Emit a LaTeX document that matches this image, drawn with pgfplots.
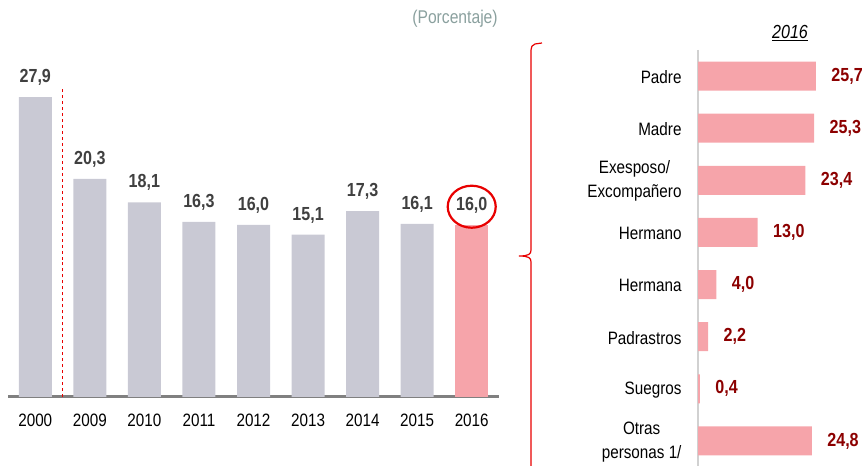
\documentclass[border=0pt]{standalone}
\usepackage{fontspec}
\setmainfont{Liberation Sans}[FakeStretch=0.85]
\usepackage{pgfplots}
\pgfplotsset{compat=1.18}

\definecolor{bargray}{RGB}{201,201,212}
\definecolor{barpink}{RGB}{246,164,170}
\definecolor{lblgray}{RGB}{64,64,64}
\definecolor{lblred}{RGB}{140,0,0}
\definecolor{axisgray}{RGB}{128,128,128}
\definecolor{notegray}{RGB}{138,160,158}
\definecolor{markred}{RGB}{232,0,0}

\begin{document}
\begin{tikzpicture}[x=1bp,y=1bp]
\useasboundingbox (0,0) rectangle (863,466);

% left: series 2000-2016
\begin{axis}[
    at={(8bp,69bp)}, anchor=south west,
    scale only axis, width=491bp, height=322.5bp,
    xmin=-0.5, xmax=8.5, ymin=0, ymax=30,
    axis x line=bottom, axis y line=none,
    x axis line style={draw=axisgray, line width=3bp, -},
    xtick={0,...,8},
    xticklabels={2000,2009,2010,2011,2012,2013,2014,2015,2016},
    major tick length=0pt,
    xticklabel style={font=\fontsize{18}{20}\selectfont, text=black, yshift=-13bp},
    ybar, bar width=33bp, bar shift=0pt,
    point meta=y,
    nodes near coords={\pgfmathprintnumber[fixed,fixed zerofill,precision=1,use comma,assume math mode=true]{\pgfplotspointmeta}},
    every node near coord/.append style={font=\bfseries\fontsize{19}{21}\selectfont, text=lblgray, yshift=8bp},
    clip=false,
]
\addplot[fill=bargray, draw=none] coordinates {
    (0,27.9) (1,20.3) (2,18.1) (3,16.3) (4,16.0) (5,15.1) (6,17.3) (7,16.1)
};
\addplot[fill=barpink, draw=none] coordinates {(8,16.0)};
\draw[markred, dashed, line width=1bp] (axis cs:0.5,0) -- (axis cs:0.5,28.8);
\draw[markred, line width=2.2bp] (axis cs:8,17.7) ellipse [x radius=24bp, y radius=21bp];
\end{axis}

% right: 2016 breakdown
\begin{axis}[
    at={(698bp,-1bp)}, anchor=south west,
    scale only axis, width=137.7bp, height=417bp,
    xbar, bar width=29bp, bar shift=0pt,
    xmin=0, xmax=30, ymin=-0.5, ymax=7.5, y dir=reverse,
    axis y line=left, axis x line=none,
    y axis line style={draw=black!18, line width=1.5bp, -},
    ytick={0,...,7},
    yticklabels={Padre,Madre,{Exesposo/\\Excompañero},Hermano,Hermana,Padrastros,Suegros,{Otras\\personas 1/}},
    yticklabel style={align=center, font=\fontsize{18}{24}\selectfont, text=black, xshift=-13bp, yshift=-1bp},
    major tick length=0pt,
    point meta=x,
    nodes near coords={\pgfmathprintnumber[fixed,fixed zerofill,precision=1,use comma,assume math mode=true]{\pgfplotspointmeta}},
    every node near coord/.append style={font=\bfseries\fontsize{19}{21}\selectfont, text=lblred, anchor=west, xshift=12bp},
    clip=false,
]
\addplot[fill=barpink, draw=none] coordinates {
    (25.7,0) (25.3,1) (23.4,2) (13.0,3) (4.0,4) (2.2,5) (0.4,6) (24.8,7)
};
\end{axis}

\node[text=notegray, font=\fontsize{18.5}{21}\selectfont] at (455,447) {(Porcentaje)};
\node[font=\itshape\fontsize{19}{22}\selectfont] at (790,433) {\underline{2016}};
\draw[markred, line width=1.2bp] (542,423) -- (535,422)
    .. controls (532,421) and (531,419) .. (531,416) -- (531,216)
    .. controls (531,212) and (529,210) .. (519,210)
    .. controls (529,210) and (531,208) .. (531,204) -- (531,-5);
\end{tikzpicture}
\end{document}
